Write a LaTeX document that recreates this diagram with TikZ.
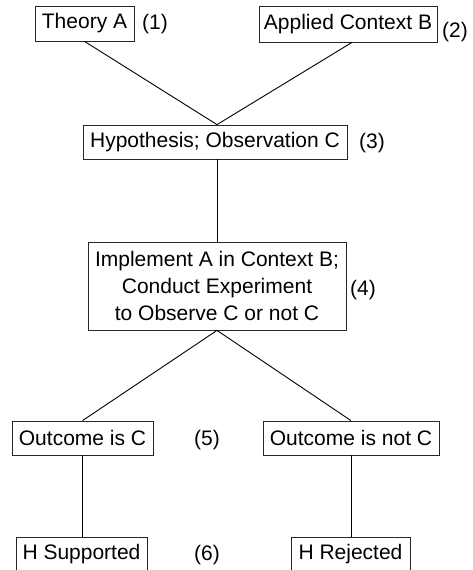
\documentclass[tikz,border=0pt]{standalone}
\usepackage{fontspec}
\setmainfont{Liberation Sans}
\begin{document}
\begin{tikzpicture}[x=1pt,y=-1pt,
  box/.style={draw=black!85,line width=0.8pt,inner sep=0pt,align=center,
    font=\fontsize{21}{26.7}\selectfont},
  num/.style={inner sep=0pt,font=\fontsize{21}{24}\selectfont},
  link/.style={draw=black,line width=0.9pt}]
\useasboundingbox (0,0) rectangle (473,570);
\fill[white] (0,0) rectangle (473,570);
\begin{scope}
\clip (0,0) rectangle (473,570);
\node[box,minimum width=99pt,minimum height=35pt] (thA) at (84.5,23.5) {Theory A};
\node[box,minimum width=178pt,minimum height=36pt] (apB) at (348,24) {Applied Context B};
\node[box,minimum width=264pt,minimum height=34pt] (hyp) at (215,142) {Hypothesis; Observation C};
\node[box,minimum width=258pt,minimum height=88pt] (imp) at (217,286) {Implement A in Context B;\\Conduct Experiment\\to Observe C or not C};
\node[box,minimum width=141pt,minimum height=34pt] (oc) at (82.5,438) {Outcome is C};
\node[box,minimum width=176pt,minimum height=34pt] (onc) at (351,438) {Outcome is not C};
\node[box,minimum width=131pt,minimum height=34pt] (hs) at (81.5,554) {H Supported};
\node[box,minimum width=119pt,minimum height=34pt] (hr) at (350.5,554) {H Rejected};
\node[num] (n1) at (155,24) {(1)};
\node[num] (n2) at (455,32) {(2)};
\node[num] (n3) at (372,143) {(3)};
\node[num] (n4) at (363,290) {(4)};
\node[num] (n5) at (207,440) {(5)};
\node[num] (n6) at (207,555) {(6)};
\draw[link] (thA.south) -- ([xshift=2pt]hyp.north);
\draw[link] ([xshift=4pt]apB.south) -- ([xshift=2pt]hyp.north);
\draw[link] ([xshift=2pt]hyp.south) -- (imp.north);
\draw[link] (imp.south) -- (oc.north);
\draw[link] (imp.south) -- (onc.north);
\draw[link] (oc.south) -- (oc.south |- hs.north);
\draw[link] (onc.south) -- (onc.south |- hr.north);
\end{scope}
\end{tikzpicture}
\end{document}
